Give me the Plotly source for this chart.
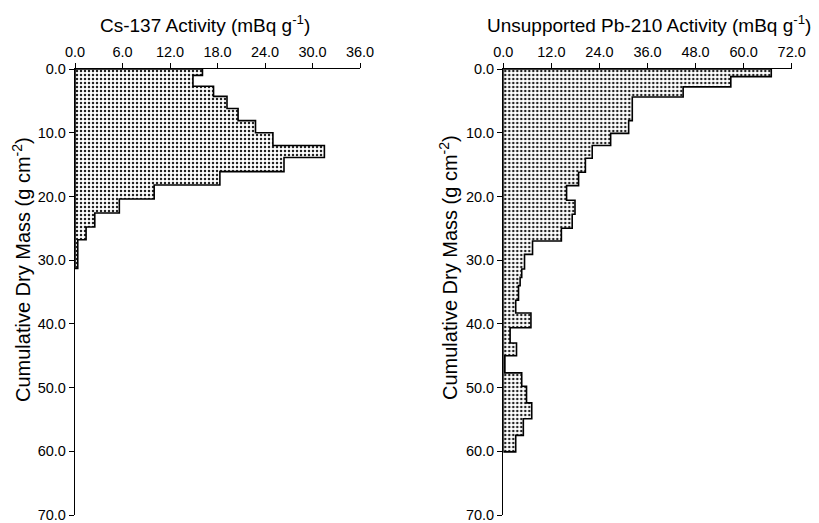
import plotly.graph_objects as go

# ---- Data ----
# Cs-137: layer top depths, bottom depths (g cm^-2) and activity (mBq g^-1)
cs_top = [0.0, 1.0, 2.7, 4.3, 6.2, 8.1, 10.0, 12.0, 13.9, 16.1, 18.2, 20.4, 22.6, 24.8, 26.8]
cs_bot = [1.0, 2.7, 4.3, 6.2, 8.1, 10.0, 12.0, 13.9, 16.1, 18.2, 20.4, 22.6, 24.8, 26.8, 31.3]
cs_act = [16.1, 14.9, 17.5, 19.2, 20.6, 22.8, 25.0, 31.5, 26.4, 18.3, 10.0, 5.6, 2.5, 1.4, 0.35]

# Unsupported Pb-210
pb_top = [0.0, 1.2, 2.8, 4.4, 8.1, 10.1, 12.0, 14.0, 16.2, 18.3, 20.6, 22.8, 25.0, 27.0,
          29.1, 31.4, 32.7, 34.0, 36.3, 38.3, 40.6, 43.0, 45.0, 47.7, 49.8, 52.4, 54.9, 57.5]
pb_bot = [1.2, 2.8, 4.4, 8.1, 10.1, 12.0, 14.0, 16.2, 18.3, 20.6, 22.8, 25.0, 27.0, 29.1,
          31.4, 32.7, 34.0, 36.3, 38.3, 40.6, 43.0, 45.0, 47.7, 49.8, 52.4, 54.9, 57.5, 60.1]
pb_act = [66.9, 56.8, 44.9, 32.2, 31.3, 26.8, 22.2, 20.5, 18.8, 15.8, 17.9, 17.2, 14.5, 7.3,
          5.3, 4.6, 4.2, 3.8, 3.1, 6.9, 1.7, 3.3, 0.4, 4.6, 5.8, 7.1, 5.0, 3.1]

cs_ticks = [0, 6, 12, 18, 24, 30, 36]
pb_ticks = [0, 12, 24, 36, 48, 60, 72]
depth_ticks = [0, 10, 20, 30, 40, 50, 60, 70]

titles = ["Cs-137 Activity (mBq g<sup>-1</sup>)",
          "Unsupported Pb-210 Activity (mBq g<sup>-1</sup>)"]
ytitle = "Cumulative Dry Mass (g cm<sup>-2</sup>)"


def step_polygon(tops, bots, vals):
    xs, ys = [0.0], [tops[0]]
    for t, b, v in zip(tops, bots, vals):
        xs += [v, v]
        ys += [t, b]
    xs += [0.0, 0.0]
    ys += [bots[-1], tops[0]]
    return xs, ys


FONT = "Liberation Sans, Arial, sans-serif"
W, H = 819, 523

fig = go.Figure()
for (tops, bots, vals), xa, ya in [((cs_top, cs_bot, cs_act), "x", "y"),
                                   ((pb_top, pb_bot, pb_act), "x2", "y2")]:
    xs, ys = step_polygon(tops, bots, vals)
    fig.add_trace(go.Scatter(
        x=xs, y=ys, mode="lines", fill="toself",
        line=dict(color="black", width=1.6),
        fillcolor="white",
        fillpattern=dict(shape=".", size=4, solidity=0.3, fgcolor="#222222", bgcolor="white"),
        xaxis=xa, yaxis=ya, showlegend=False, hoverinfo="skip"))

ydom = [(H - 515) / H, (H - 69) / H]
xcommon = dict(side="top", showline=True, linecolor="black", linewidth=1.4,
               ticks="outside", ticklen=5, tickwidth=1.2, tickcolor="black",
               tickformat=".1f", showgrid=False, zeroline=False, automargin=False,
               ticklabeloverflow="allow",
               tickfont=dict(family=FONT, size=14.5, color="black"))
ycommon = dict(range=[70, 0], tickvals=depth_ticks, showline=True, linecolor="black",
               linewidth=1.4, ticks="outside", ticklen=5, tickwidth=1.2, tickcolor="black",
               tickformat=".1f", showgrid=False, zeroline=False, domain=ydom, automargin=False,
               ticklabeloverflow="allow",
               tickfont=dict(family=FONT, size=14.5, color="black"))

ann = dict(xref="paper", yref="paper", showarrow=False, xanchor="center", yanchor="middle")
fig.update_layout(
    template="none",
    width=W, height=H,
    margin=dict(l=0, r=0, t=0, b=0, autoexpand=False),
    paper_bgcolor="white", plot_bgcolor="white",
    xaxis=dict(domain=[75 / W, 360 / W], range=[0, 36], tickvals=cs_ticks,
               anchor="y", **xcommon),
    yaxis=dict(anchor="x", **ycommon),
    xaxis2=dict(domain=[503.3 / W, 791.7 / W], range=[0, 72], tickvals=pb_ticks,
                anchor="y2", **xcommon),
    yaxis2=dict(anchor="x2", **ycommon),
    annotations=[
        dict(text=titles[0], x=205 / W, y=1 - 24 / H,
             font=dict(family=FONT, size=19, color="black"), **ann),
        dict(text=titles[1], x=649 / W, y=1 - 24 / H,
             font=dict(family=FONT, size=19, color="black"), **ann),
        dict(text=ytitle, x=21 / W, y=1 - 270 / H, textangle=-90,
             font=dict(family=FONT, size=20, color="black"), **ann),
        dict(text=ytitle, x=448 / W, y=1 - 268 / H, textangle=-90,
             font=dict(family=FONT, size=20, color="black"), **ann),
    ],
)

fig.write_html("out.html", config={"displayModeBar": False},
               post_script="document.body.style.margin='0';document.body.style.overflow='hidden';")
